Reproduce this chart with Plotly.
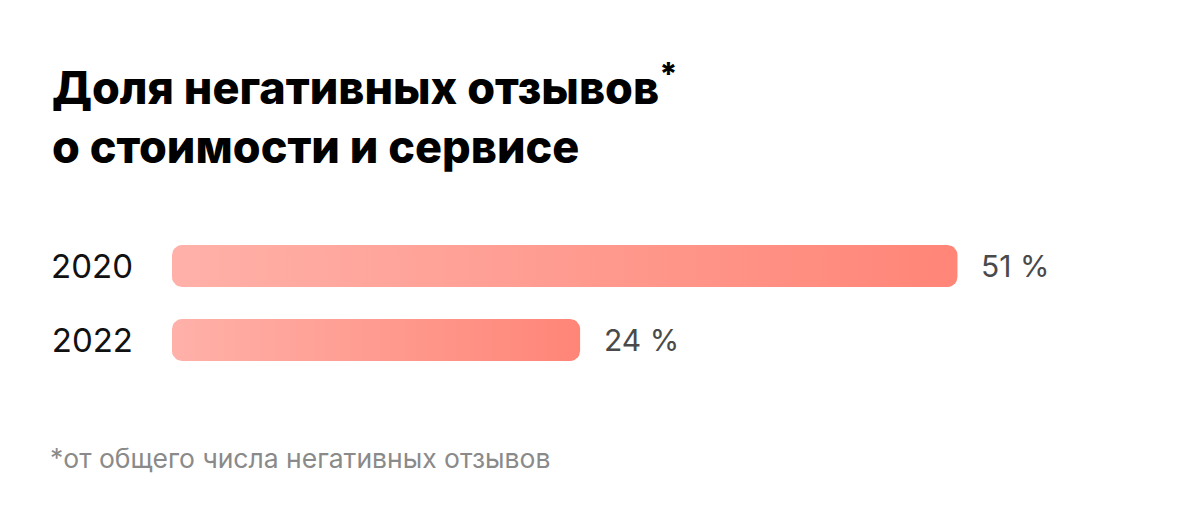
import numpy as np
import plotly.graph_objs as go

# data
years = ["2020", "2022"]
shares = [51, 24]
value_labels = ["51 %", "24 %"]

title_text = "Доля негативных отзывов<sup>*</sup><br>о стоимости и сервисе"
note_text = "*от общего числа негативных отзывов"

# layout constants (pixels); page body adds 8px, so positions are shifted back
W, H = 1184, 530
OFF = 8
M_L, M_R, M_T, M_B = 172 - OFF, 84 + OFF, 229 - OFF, 153 + OFF
X_MIN, X_MAX = -5.2, 61.2      # bars start at the left edge of the axis
BAR_H = 42
RADIUS = 10
COL_LEFT, COL_RIGHT = "#FFB1A9", "#FF8577"

plot_w = W - M_L - M_R
plot_h = H - M_T - M_B
px_x = plot_w / (X_MAX - X_MIN)
px_y = plot_h / 2.0            # two categories, range [-0.5, 1.5]


def rounded_bar(x0, x1, yc):
	""" Outline of a bar with rounded corners, in data units. """
	rx = RADIUS / px_x
	ry = RADIUS / px_y
	hh = BAR_H / 2.0 / px_y
	t = np.linspace(0, np.pi / 2, 8)
	xs, ys = [], []
	# corners: (center x, center y, start angle)
	corners = [
		(x1 - rx, yc - hh + ry, -np.pi / 2),
		(x1 - rx, yc + hh - ry, 0),
		(x0 + rx, yc + hh - ry, np.pi / 2),
		(x0 + rx, yc - hh + ry, np.pi),
	]
	for cx, cy, a in corners:
		xs += list(cx + rx * np.cos(a + t))
		ys += list(cy + ry * np.sin(a + t))
	xs.append(xs[0])
	ys.append(ys[0])
	return xs, ys


data = []
for i, (year, val) in enumerate(zip(years, shares)):
	xs, ys = rounded_bar(X_MIN, val, i)
	data.append(go.Scatter(
		x=xs, y=ys,
		mode="lines",
		fill="toself",
		line=dict(width=0, color=COL_RIGHT),
		fillgradient=dict(
			type="horizontal",
			colorscale=[[0, COL_LEFT], [1, COL_RIGHT]]),
		hoverinfo="skip",
		showlegend=False,
		name=year))

annotations = []
for i, (val, lab) in enumerate(zip(shares, value_labels)):
	annotations.append(dict(
		x=val, y=i, xref="x", yref="y",
		text=lab, showarrow=False,
		xanchor="left", yanchor="middle", xshift=22,
		font=dict(family="Inter", size=30, color="#4a4a4a")))

# footnote, placed in paper units below the plot area
note_x, note_y = 48 - OFF, 458 - OFF
annotations.append(dict(
	x=(note_x - M_L) / plot_w, y=(H - M_B - note_y) / plot_h,
	xref="paper", yref="paper",
	text=note_text, showarrow=False,
	xanchor="left", yanchor="middle",
	font=dict(family="Inter", size=26.5, color="#8a8a8a")))

layout = go.Layout(
	width=W, height=H,
	margin=dict(l=M_L, r=M_R, t=M_T, b=M_B),
	plot_bgcolor="#FFF",
	paper_bgcolor="#FFF",
	showlegend=False,
	title=dict(
		text=title_text,
		xref="container", yref="container",
		x=(52 - OFF) / W, xanchor="left",
		y=1 - (104 - OFF) / H, yanchor="top",
		font=dict(family="Inter", size=45, weight=800, color="#000")),
	xaxis=dict(
		range=[X_MIN, X_MAX],
		visible=False,
		fixedrange=True),
	yaxis=dict(
		range=[1.5, -0.5],
		tickvals=list(range(len(years))),
		ticktext=years,
		showgrid=False,
		zeroline=False,
		showline=False,
		ticks="",
		ticklabelstandoff=38,
		tickfont=dict(family="Inter", size=33, color="#111"),
		fixedrange=True),
	annotations=annotations,
)

fig = go.Figure(data=data, layout=layout)
fig.write_html("out.html")
